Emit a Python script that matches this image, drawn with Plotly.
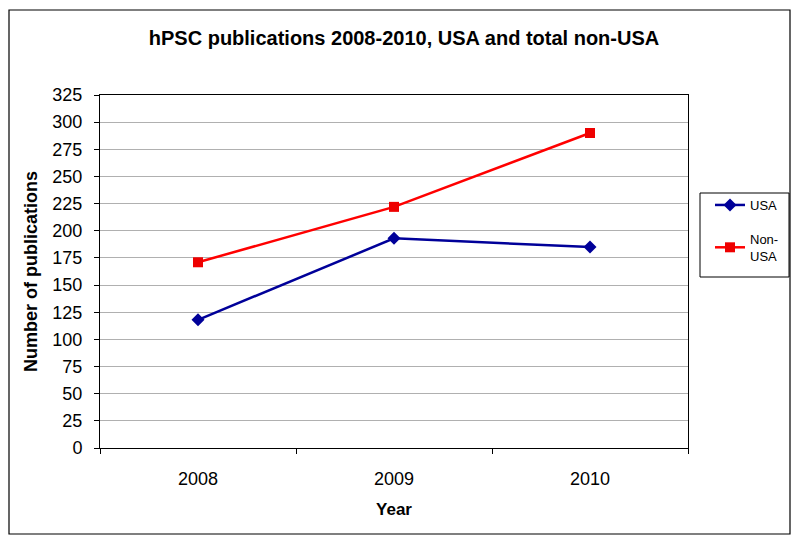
import plotly.graph_objects as go

years = ["2008", "2009", "2010"]
usa = [118, 193, 185]
non_usa = [171, 222, 290]
y_ticks = list(range(0, 326, 25))

FONT = "Liberation Sans, Arial, sans-serif"

# page body has an 8px margin; work in reference pixel coords shifted by it
OFF = 8
W, H = 800 - OFF, 545 - OFF
PL, PR, PT, PB = 100, 688, 95, 448  # plot area in reference pixels
L, T = PL - OFF, PT - OFF
R, B = W - (PR - OFF), H - (PB - OFF)
pw, ph = PR - PL, PB - PT

def px_x(p):
    return (p - PL) / pw

def px_y(p):
    return (PB - p) / ph

fig = go.Figure()
fig.add_trace(go.Scatter(
    x=years, y=usa, name="USA", mode="lines+markers",
    line=dict(color="#000099", width=2.5),
    marker=dict(symbol="diamond", size=10, color="#000099"),
    legendgroup="a",
))
fig.add_trace(go.Scatter(
    x=years, y=non_usa, name="Non-<br>USA", mode="lines+markers",
    line=dict(color="#ff0000", width=2.5),
    marker=dict(symbol="square", size=10, color="#ee0000"),
    legendgroup="b",
))

fig.update_layout(
    width=W, height=H,
    margin=dict(l=L, r=R, t=T, b=B),
    paper_bgcolor="white", plot_bgcolor="white",
    font=dict(family=FONT, color="black"),
    title=dict(text="<b>hPSC publications 2008-2010, USA and total non-USA</b>",
               x=0.5, xanchor="center", y=1 - (38 - OFF) / H, yanchor="middle",
               font=dict(size=20, family=FONT)),
    showlegend=True,
    legend=dict(x=px_x(710), y=px_y(190), xanchor="left", yanchor="top",
                borderwidth=0, bgcolor="rgba(0,0,0,0)",
                font=dict(size=13, family=FONT), tracegroupgap=14,
                itemwidth=30),
    xaxis=dict(
        type="category", range=[-0.5, 2.5],
        showgrid=False, showline=True, linecolor="#000000", linewidth=1,
        mirror=True, ticks="outside", tickson="boundaries", ticklen=5,
        tickcolor="#000000", tickfont=dict(size=18, family=FONT),
        ticklabelstandoff=14,
        title=dict(text="<b>Year</b>", font=dict(size=17, family=FONT), standoff=15),
    ),
    yaxis=dict(
        range=[0, 325], tickvals=y_ticks, showgrid=True, gridcolor="#b0b0b0",
        gridwidth=1, showline=True, linecolor="#000000", linewidth=1,
        mirror=True, ticks="outside", ticklen=5, tickcolor="#000000",
        tickfont=dict(size=18, family=FONT), zeroline=False,
        ticklabelstandoff=8,
        title=dict(text="<b>Number of publications</b>", font=dict(size=18, family=FONT), standoff=10),
    ),
    shapes=[
        dict(type="rect", xref="paper", yref="paper",
             x0=px_x(9), x1=px_x(790), y0=px_y(534), y1=px_y(10),
             line=dict(color="#000000", width=1.2), layer="below"),
        dict(type="rect", xref="paper", yref="paper",
             x0=px_x(700), x1=px_x(789), y0=px_y(277), y1=px_y(193),
             line=dict(color="#000000", width=1), fillcolor="white", layer="below"),
    ],
)

fig.write_html("out.html")
